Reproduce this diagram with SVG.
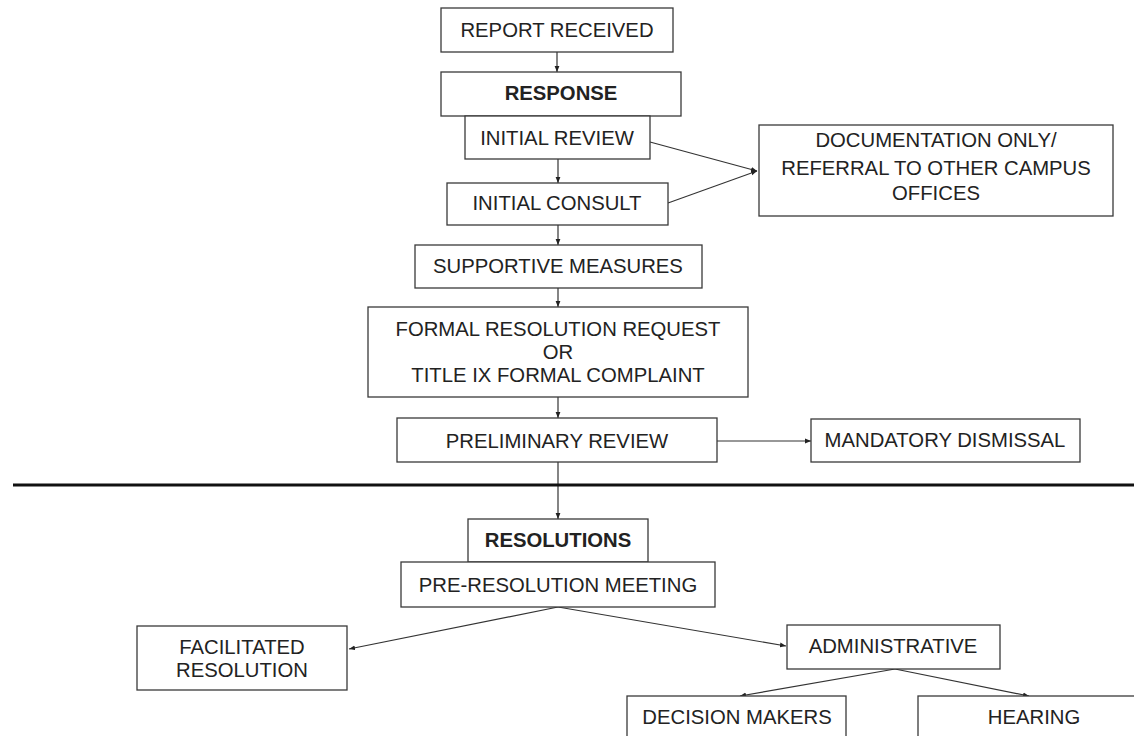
<svg xmlns="http://www.w3.org/2000/svg" width="1134" height="736" viewBox="0 0 1134 736">
<style>
.box{fill:#fff;stroke:#3a3a3a;stroke-width:1.3}
.t{font-family:"Liberation Sans",Arial,sans-serif;font-size:20.3px;fill:#222;text-anchor:middle}
.b{font-weight:bold}
.c{stroke:#333;stroke-width:1.2;fill:none;marker-end:url(#ah)}
</style>
<defs>
<marker id="ah" viewBox="0 0 10 10" refX="10" refY="5" markerWidth="6" markerHeight="6" markerUnits="userSpaceOnUse" orient="auto">
<path d="M0,1 L10,5 L0,9 z" fill="#222"/>
</marker>
</defs>
<rect width="1134" height="736" fill="#fff"/>
<g id="connectors">
<line class="c" x1="557" y1="52" x2="557" y2="72"/>
<line class="c" x1="558" y1="159" x2="558" y2="183"/>
<line class="c" x1="558" y1="225" x2="558" y2="245"/>
<line class="c" x1="558" y1="288" x2="558" y2="307"/>
<line class="c" x1="558" y1="397" x2="558" y2="418"/>
<line class="c" x1="650" y1="142" x2="757" y2="171"/>
<line class="c" x1="668" y1="203" x2="757" y2="171"/>
<line class="c" x1="717" y1="441" x2="811" y2="441"/>
<line class="c" x1="558" y1="462" x2="558" y2="519"/>
<line class="c" x1="558" y1="607" x2="349" y2="649"/>
<line class="c" x1="558" y1="607" x2="786" y2="646"/>
<line class="c" x1="895" y1="669" x2="740" y2="696"/>
<line class="c" x1="895" y1="669" x2="1029" y2="696"/>
</g>
<line id="divider" x1="13" y1="485" x2="1134" y2="485" stroke="#111" stroke-width="3"/>
<g id="report-received"><rect class="box" x="441" y="8" width="232" height="44"/><text class="t" x="557" y="37">REPORT RECEIVED</text></g>
<g id="response"><rect class="box" x="441" y="72" width="240" height="44"/><text class="t b" x="561" y="100">RESPONSE</text></g>
<g id="initial-review"><rect class="box" x="465" y="116" width="185" height="43"/><text class="t" x="557" y="145">INITIAL REVIEW</text></g>
<g id="initial-consult"><rect class="box" x="447" y="183" width="221" height="42"/><text class="t" x="557" y="210">INITIAL CONSULT</text></g>
<g id="documentation"><rect class="box" x="759" y="125" width="354" height="91"/><text class="t" x="936" y="147">DOCUMENTATION ONLY/</text><text class="t" x="936" y="175">REFERRAL TO OTHER CAMPUS</text><text class="t" x="936" y="200">OFFICES</text></g>
<g id="supportive-measures"><rect class="box" x="415" y="245" width="287" height="43"/><text class="t" x="558" y="273">SUPPORTIVE MEASURES</text></g>
<g id="formal-request"><rect class="box" x="368" y="307" width="380" height="90"/><text class="t" x="558" y="336">FORMAL RESOLUTION REQUEST</text><text class="t" x="558" y="359">OR</text><text class="t" x="558" y="382">TITLE IX FORMAL COMPLAINT</text></g>
<g id="preliminary-review"><rect class="box" x="397" y="418" width="320" height="44"/><text class="t" x="557" y="448">PRELIMINARY REVIEW</text></g>
<g id="mandatory-dismissal"><rect class="box" x="811" y="419" width="269" height="43"/><text class="t" x="945" y="447">MANDATORY DISMISSAL</text></g>
<g id="resolutions"><rect class="box" x="468" y="519" width="180" height="43"/><text class="t b" x="558" y="547">RESOLUTIONS</text></g>
<g id="pre-resolution"><rect class="box" x="401" y="562" width="314" height="45"/><text class="t" x="558" y="592">PRE-RESOLUTION MEETING</text></g>
<g id="facilitated"><rect class="box" x="137" y="626" width="210" height="64"/><text class="t" x="242" y="654">FACILITATED</text><text class="t" x="242" y="677">RESOLUTION</text></g>
<g id="administrative"><rect class="box" x="787" y="625" width="213" height="44"/><text class="t" x="893" y="653">ADMINISTRATIVE</text></g>
<g id="decision-makers"><rect class="box" x="627" y="696" width="219" height="50"/><text class="t" x="737" y="724">DECISION MAKERS</text></g>
<g id="hearing"><rect class="box" x="918" y="696" width="240" height="50"/><text class="t" x="1034" y="724">HEARING</text></g>
</svg>
